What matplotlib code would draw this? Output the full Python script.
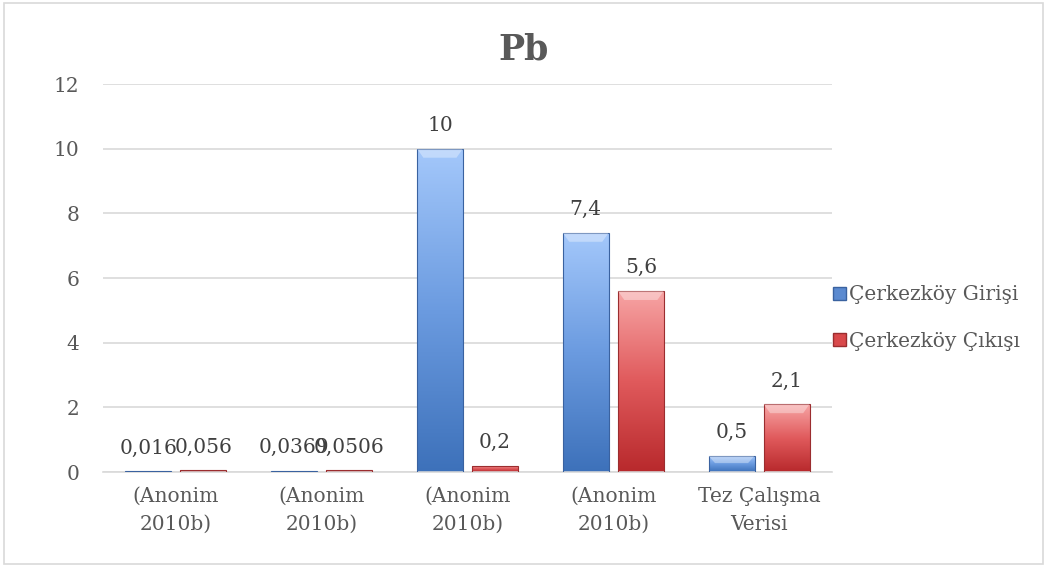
import numpy as np
import matplotlib
matplotlib.use("Agg")
import matplotlib.pyplot as plt
from matplotlib.colors import LinearSegmentedColormap
from matplotlib.patches import Rectangle, Polygon, Patch

categories = ["(Anonim\n2010b)", "(Anonim\n2010b)", "(Anonim\n2010b)", "(Anonim\n2010b)", "Tez Çalışma\nVerisi"]
giris = [0.016, 0.0369, 10, 7.4, 0.5]
cikis = [0.056, 0.0506, 0.2, 5.6, 2.1]
giris_labels = ["0,016", "0,0369", "10", "7,4", "0,5"]
cikis_labels = ["0,056", "0,0506", "0,2", "5,6", "2,1"]
series_names = ["Çerkezköy Girişi", "Çerkezköy Çıkışı"]
yticks = [0, 2, 4, 6, 8, 10, 12]

FONT = ["DejaVu Serif"]
plt.rcParams["font.family"] = FONT
TXT = "#595959"
FS = 14.5

W, H = 1047, 567
fig = plt.figure(figsize=(W / 100, H / 100), dpi=100)
ax = fig.add_axes([103 / W, 1 - 472 / H, (832 - 103) / W, (472 - 84) / H])

blue_cmap = LinearSegmentedColormap.from_list("b", ["#3d71ba", "#6b9be0", "#a4c8fb"])
red_cmap = LinearSegmentedColormap.from_list("r", ["#b8292c", "#e05a5c", "#f7a5a5"])

x = np.arange(len(categories))
bw = 0.315
off = 0.189

ax.set_xlim(-0.5, len(categories) - 0.5)
ax.set_ylim(0, 12)

grad = np.linspace(0, 1, 256).reshape(-1, 1)

def draw_bar(xc, h, cmap, edge):
    x0, x1 = xc - bw / 2, xc + bw / 2
    im = ax.imshow(grad, cmap=cmap, aspect="auto", extent=(x0, x1, 0, h),
                   origin="lower", zorder=2, interpolation="bilinear")
    rect = Rectangle((x0, 0), bw, h, facecolor="none", edgecolor=edge, lw=0.8, zorder=3)
    ax.add_patch(rect)
    im.set_clip_path(rect)
    bev_y = min(0.28, h * 0.45)
    bev_x = bw * 0.14
    if h > 0.3:
        top = Polygon([(x0, h), (x1, h), (x1 - bev_x, h - bev_y), (x0 + bev_x, h - bev_y)],
                      closed=True, facecolor="white", alpha=0.35, edgecolor="none", zorder=3)
        ax.add_patch(top)

for i in range(len(categories)):
    draw_bar(x[i] - off, giris[i], blue_cmap, "#3a62a0")
    draw_bar(x[i] + off, cikis[i], red_cmap, "#9b2d2f")
    ax.text(x[i] - off, giris[i] + 0.42, giris_labels[i], ha="center", va="bottom",
            fontsize=FS, color="#404040")
    ax.text(x[i] + off, cikis[i] + 0.42, cikis_labels[i], ha="center", va="bottom",
            fontsize=FS, color="#404040")

ax.set_yticks(yticks)
ax.set_yticklabels([str(v) for v in yticks], fontsize=FS, color=TXT)
ax.set_xticks(x)
ax.set_xticklabels(categories, fontsize=FS, color=TXT, linespacing=1.55)
ax.tick_params(axis="both", length=0)
ax.tick_params(axis="y", pad=17)
ax.tick_params(axis="x", pad=11)
ax.grid(axis="y", color="#d9d9d9", lw=1.2, zorder=0)
ax.set_axisbelow(True)
for s in ["top", "right", "left"]:
    ax.spines[s].set_visible(False)
ax.spines["bottom"].set_color("#d9d9d9")
ax.spines["bottom"].set_linewidth(1.2)

fig.text(0.5, 1 - 50 / H, "Pb", ha="center", va="center", fontsize=25,
         fontweight="bold", color=TXT)

handles = [Patch(facecolor="#5b8ad0", edgecolor="#3a62a0"),
           Patch(facecolor="#d9494b", edgecolor="#9b2d2f")]
leg = fig.legend(handles, series_names, loc="center left",
                 bbox_to_anchor=(815 / W, 1 - 318 / H), frameon=False,
                 fontsize=FS, labelcolor=TXT, handlelength=0.65, handleheight=0.65,
                 handletextpad=0.15, labelspacing=1.35)

fig.patches.append(Rectangle((4 / W, 3 / H), (1043 - 4) / W, (564 - 3) / H,
                             transform=fig.transFigure, facecolor="none",
                             edgecolor="#d9d9d9", lw=1.2))

fig.savefig("out.png", dpi=100)
